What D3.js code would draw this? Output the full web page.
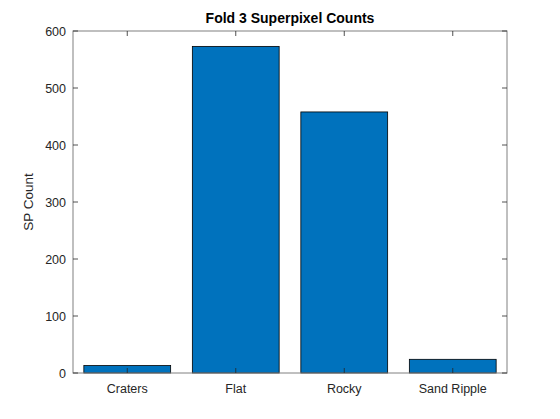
<!DOCTYPE html>
<html>
<head>
<meta charset="utf-8">
<script src="https://cdn.jsdelivr.net/npm/d3@7"></script>
<style>
  body { margin: 0; background: #fff; }
  svg text { font-family: "Liberation Sans", Arial, sans-serif; }
</style>
</head>
<body>
<div id="chart"></div>
<script>
const categories = ["Craters", "Flat", "Rocky", "Sand Ripple"];
const counts = [13, 573, 458, 24];
const yTicks = [0, 100, 200, 300, 400, 500, 600];

const width = 560, height = 419;
const margin = {top: 31, right: 53, bottom: 46, left: 73};
const w = width - margin.left - margin.right;
const h = height - margin.top - margin.bottom;

const svg = d3.select("#chart").append("svg")
  .attr("width", width)
  .attr("height", height);

const g = svg.append("g").attr("transform", `translate(${margin.left},${margin.top})`);

// MATLAB style: categories at 1..4, limits 0.5..4.5, bar width 0.8
const x = d3.scaleLinear().domain([0.5, 4.5]).range([0, w]);
const y = d3.scaleLinear().domain([0, 600]).range([h, 0]);
const barW = x(1.8) - x(1);

g.selectAll(".bar")
  .data(counts)
  .join("rect")
  .attr("class", "bar")
  .attr("x", (d, i) => x(i + 1) - barW / 2)
  .attr("y", d => y(d))
  .attr("width", barW)
  .attr("height", d => y(0) - y(d))
  .attr("fill", "#0072BD")
  .attr("stroke", "#000")
  .attr("stroke-width", 0.8);

const axisColor = "#808080";
const tickLen = 5;

// box
g.append("rect")
  .attr("x", 0).attr("y", 0).attr("width", w).attr("height", h)
  .attr("fill", "none").attr("stroke", axisColor).attr("stroke-width", 1);

// x ticks (bottom + top, inward)
const xTickPos = categories.map((c, i) => i + 1);
g.selectAll(".xtb").data(xTickPos).join("line")
  .attr("x1", d => x(d)).attr("x2", d => x(d))
  .attr("y1", h).attr("y2", h - tickLen)
  .attr("stroke", "#262626").attr("stroke-width", 0.8);
g.selectAll(".xtt").data(xTickPos).join("line")
  .attr("x1", d => x(d)).attr("x2", d => x(d))
  .attr("y1", 0).attr("y2", tickLen)
  .attr("stroke", "#262626").attr("stroke-width", 0.8);

// y ticks (left + right, inward)
g.selectAll(".ytl").data(yTicks).join("line")
  .attr("x1", 0).attr("x2", tickLen)
  .attr("y1", d => y(d)).attr("y2", d => y(d))
  .attr("stroke", "#262626").attr("stroke-width", 0.8);
g.selectAll(".ytr").data(yTicks).join("line")
  .attr("x1", w).attr("x2", w - tickLen)
  .attr("y1", d => y(d)).attr("y2", d => y(d))
  .attr("stroke", "#262626").attr("stroke-width", 0.8);

// tick labels
g.selectAll(".xl").data(categories).join("text")
  .attr("x", (d, i) => x(i + 1))
  .attr("y", h + 20)
  .attr("text-anchor", "middle")
  .attr("font-size", 12.5)
  .attr("fill", "#262626")
  .text(d => d);

g.selectAll(".yl").data(yTicks).join("text")
  .attr("x", -7)
  .attr("y", d => y(d) + 4.5)
  .attr("text-anchor", "end")
  .attr("font-size", 12.5)
  .attr("fill", "#262626")
  .text(d => d);

// y label
g.append("text")
  .attr("transform", `translate(${-40},${h / 2}) rotate(-90)`)
  .attr("text-anchor", "middle")
  .attr("font-size", 13.5)
  .attr("fill", "#262626")
  .text("SP Count");

// title
svg.append("text")
  .attr("x", margin.left + w / 2)
  .attr("y", 22.5)
  .attr("text-anchor", "middle")
  .attr("font-size", 14)
  .attr("font-weight", "bold")
  .attr("fill", "#000")
  .text("Fold 3 Superpixel Counts");
</script>
</body>
</html>
